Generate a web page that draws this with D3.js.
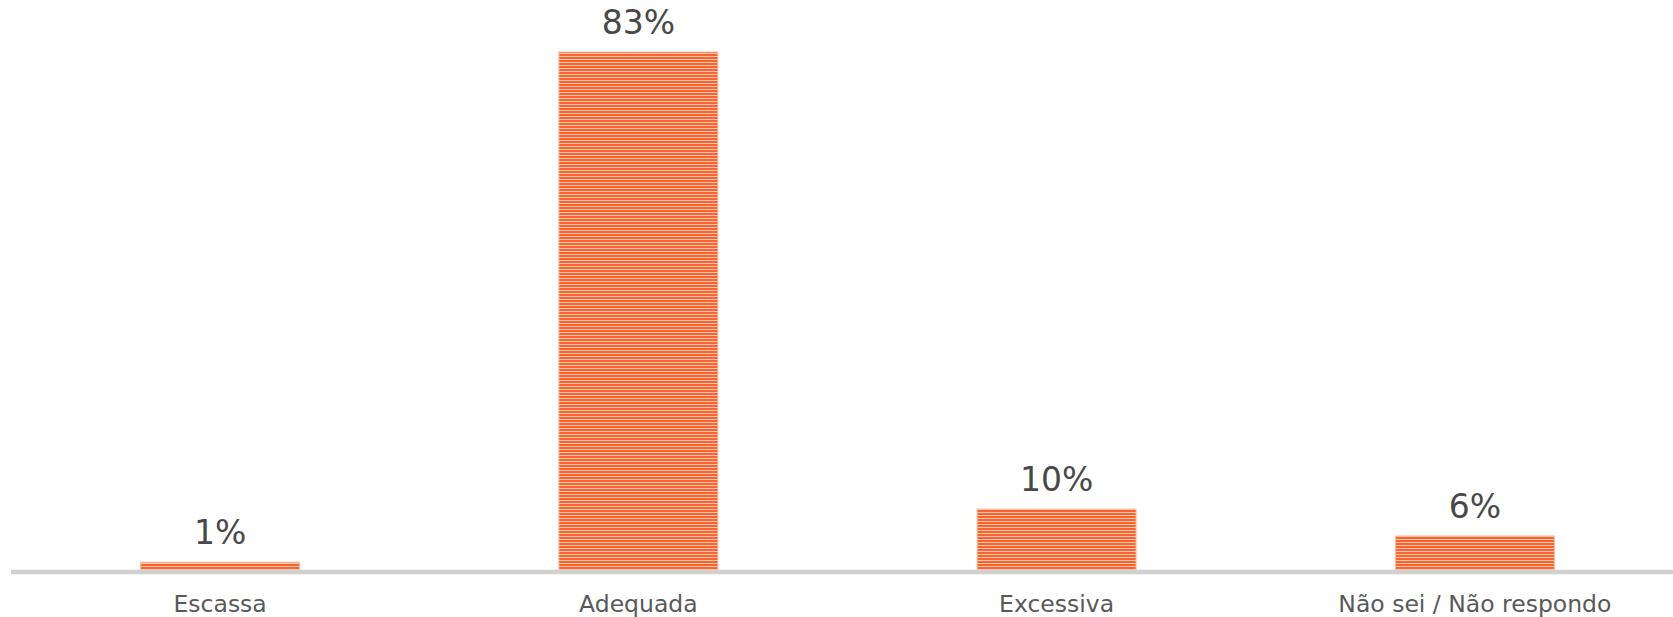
<!DOCTYPE html>
<html>
<head>
<meta charset="utf-8">
<script src="https://cdn.jsdelivr.net/npm/d3@7/dist/d3.min.js"></script>
<style>
  html, body { margin: 0; padding: 0; background: #ffffff; }
  svg { display: block; }
</style>
</head>
<body>
<svg id="chart" width="1673" height="617"></svg>
<script>
const categories = ["Escassa", "Adequada", "Excessiva", "Não sei / Não respondo"];
const values = [1.4, 83, 9.9, 5.6];
const valueLabels = ["1%", "83%", "10%", "6%"];

const W = 1673, H = 617;
const svg = d3.select("#chart");

const defs = svg.append("defs");
const pat = defs.append("pattern")
  .attr("id", "stripes")
  .attr("patternUnits", "userSpaceOnUse")
  .attr("width", 8).attr("height", 3);
pat.append("rect").attr("width", 8).attr("height", 3).attr("fill", "#fdc8ae");
pat.append("rect").attr("width", 8).attr("height", 2).attr("fill", "#f9632f");

const x = d3.scaleBand()
  .domain(categories)
  .range([11, 1684])
  .paddingInner(0.62)
  .paddingOuter(0.31);

const y = d3.scaleLinear()
  .domain([0, d3.max(values)])
  .range([571, 52]);

const data = categories.map((c, i) => ({ c, v: values[i], label: valueLabels[i] }));

svg.append("g").selectAll("rect")
  .data(data)
  .join("rect")
  .attr("x", d => x(d.c))
  .attr("y", d => y(d.v))
  .attr("width", x.bandwidth())
  .attr("height", d => y(0) - y(d.v))
  .attr("fill", "url(#stripes)")
  .attr("stroke", "#fcb89c")
  .attr("stroke-width", 1);

// axis baseline
svg.append("line")
  .attr("x1", 11).attr("x2", W)
  .attr("y1", 572).attr("y2", 572)
  .attr("stroke", "#d0d0d0")
  .attr("stroke-width", 4.5);

// value labels
svg.append("g").selectAll("text")
  .data(data)
  .join("text")
  .attr("x", d => x(d.c) + x.bandwidth() / 2)
  .attr("y", d => y(d.v) - 18)
  .attr("text-anchor", "middle")
  .attr("font-family", "'DejaVu Sans', Verdana, sans-serif")
  .attr("font-size", 33)
  .attr("fill", "#484848")
  .text(d => d.label);

// category labels
svg.append("g").selectAll("text")
  .data(data)
  .join("text")
  .attr("x", d => x(d.c) + x.bandwidth() / 2)
  .attr("y", 612)
  .attr("text-anchor", "middle")
  .attr("font-family", "'DejaVu Sans', Verdana, sans-serif")
  .attr("font-size", 23.5)
  .attr("fill", "#595959")
  .text(d => d.c);
</script>
</body>
</html>
